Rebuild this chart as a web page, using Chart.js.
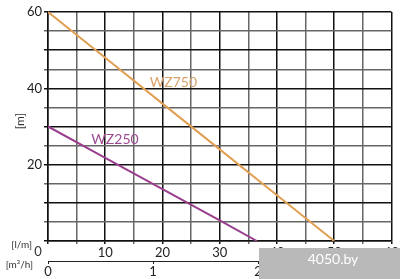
<!DOCTYPE html>
<html>
<head>
<meta charset="utf-8">
<script src="https://cdn.jsdelivr.net/npm/chart.js@4/dist/chart.umd.min.js"></script>
<style>
  html, body { margin: 0; padding: 0; background: #fff; }
  #wrap { width: 400px; height: 279px; }
</style>
</head>
<body>
<div id="wrap"><canvas id="myChart" width="400" height="279"></canvas></div>
<script>
// values
const flow750 = [0, 10, 20, 30, 40, 50];
const head750 = [60, 48, 36, 24, 12, 0];
const flow250 = [0, 10, 20, 30, 36.5];
const head250 = [30, 21.8, 13.6, 5.4, 0];
const seriesNames = ['WZ750', 'WZ250'];
const flowTicks = [10, 20, 30, 40, 50, 60];
const headTicks = [20, 40, 60];
const cubicTicks = [0, 1, 2];

const orange = '#e3a052';
const purple = '#9a3f8e';
const font = 'Lato, "Open Sans", sans-serif';

function pts(xs, ys) {
    return xs.map((x, i) => ({ x: x, y: ys[i] }));
}

const extras = {
    id: 'extras',
    afterDraw(chart) {
        const ctx = chart.ctx;
        const xs = chart.scales.x, ys = chart.scales.y;
        ctx.save();
        // series labels
        ctx.font = '14px ' + font;
        ctx.textAlign = 'center';
        ctx.textBaseline = 'middle';
        ctx.fillStyle = '#d9a26c';
        ctx.fillText(seriesNames[0], xs.getPixelForValue(21.9), ys.getPixelForValue(41.5));
        ctx.fillStyle = '#9c4c93';
        ctx.fillText(seriesNames[1], xs.getPixelForValue(11.7), ys.getPixelForValue(26.6));
        // axis units
        ctx.fillStyle = '#333';
        ctx.font = '10px ' + font;
        ctx.textAlign = 'right';
        ctx.fillText('[l/m]', 32, 245);
        ctx.fillText('[m³/h]', 33, 265);
        ctx.font = '13px ' + font;
        ctx.textAlign = 'center';
        ctx.fillText('0', 38, 252);
        ctx.translate(20, 121);
        ctx.rotate(-Math.PI / 2);
        ctx.font = '12px ' + font;
        ctx.fillText('[m]', 0, 0);
        ctx.restore();
        // site watermark
        ctx.save();
        ctx.fillStyle = '#b9b9b9';
        ctx.fillRect(259, 248, 141, 31);
        ctx.fillStyle = '#fff';
        ctx.font = '14px ' + font;
        ctx.textAlign = 'center';
        ctx.textBaseline = 'middle';
        ctx.fillText('4050.by', 333, 259);
        ctx.restore();
    }
};

new Chart(document.querySelector('#myChart').getContext('2d'), {
    type: 'scatter',
    data: {
        datasets: [{
            label: seriesNames[0],
            data: pts(flow750, head750),
            showLine: true,
            borderColor: orange,
            borderWidth: 2,
            pointRadius: 0,
            tension: 0
        }, {
            label: seriesNames[1],
            data: pts(flow250, head250),
            showLine: true,
            borderColor: purple,
            borderWidth: 2,
            pointRadius: 0,
            tension: 0
        }]
    },
    options: {
        responsive: false,
        animation: false,
        layout: { padding: { top: 12, right: 8, left: 0, bottom: 0 } },
        plugins: {
            legend: { display: false },
            tooltip: { enabled: false }
        },
        scales: {
            x: {
                type: 'linear',
                position: 'bottom',
                min: 0,
                max: 60,
                afterBuildTicks: (s) => { s.ticks = []; for (let v = 0; v <= 60; v += 5) s.ticks.push({ value: v }); },
                afterFit: (s) => { s.height = 20; },
                border: { color: '#111', width: 1.5 },
                grid: {
                    color: (c) => c.tick && c.tick.value % 10 === 0 ? '#111' : '#666',
                    lineWidth: 1.5,
                    tickLength: 3
                },
                ticks: {
                    autoSkip: false,
                    maxRotation: 0,
                    padding: 1,
                    color: '#222',
                    font: { family: font, size: 13 },
                    callback: (v) => flowTicks.includes(v) ? String(v) : ''
                }
            },
            x2: {
                type: 'linear',
                position: 'bottom',
                min: 0,
                max: 3.27,
                afterBuildTicks: (s) => { s.ticks = cubicTicks.map(v => ({ value: v })); },
                afterFit: (s) => { s.height = 18; },
                border: { color: '#222', width: 1 },
                grid: { drawOnChartArea: false, color: '#222', tickLength: 3 },
                ticks: {
                    autoSkip: false,
                    maxRotation: 0,
                    padding: 0,
                    color: '#222',
                    font: { family: font, size: 13 }
                }
            },
            y: {
                min: 0,
                max: 60,
                afterBuildTicks: (s) => { s.ticks = []; for (let v = 0; v <= 60; v += 5) s.ticks.push({ value: v }); },
                afterFit: (s) => { s.width = 48; },
                border: { color: '#111', width: 1.5 },
                grid: {
                    color: (c) => c.tick && c.tick.value % 10 === 0 ? '#111' : '#666',
                    lineWidth: 1.5,
                    tickLength: 4
                },
                ticks: {
                    autoSkip: false,
                    padding: 2,
                    color: '#222',
                    font: { family: font, size: 13 },
                    callback: (v) => headTicks.includes(v) ? String(v) : ''
                }
            }
        }
    },
    plugins: [extras]
});
</script>
</body>
</html>
